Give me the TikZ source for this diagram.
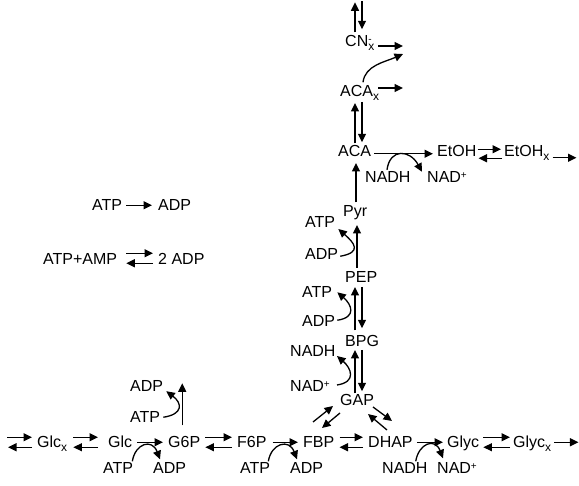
\documentclass[tikz,border=0pt]{standalone}
\usepackage{fontspec}
\setmainfont{Liberation Sans}
\usetikzlibrary{arrows.meta,calc}
\newcommand\sbx[1]{\raisebox{-4pt}{\fontsize{12}{12}\selectfont #1}}
\newcommand\spx[1]{\raisebox{4.5pt}{\fontsize{10}{10}\selectfont #1}}
\begin{document}
\begin{tikzpicture}[x=1pt,y=-1pt,
  lbl/.style={inner sep=0pt, text height=11.5pt, text depth=0pt, anchor=base west, font=\fontsize{16}{19}\selectfont},
  arr/.style={line width=1.3pt, -{Triangle[length=8.5pt,width=8pt]}}]
\useasboundingbox (0,0) rectangle (579,486);
\coordinate (U) at (355,0);
\coordinate (D) at (362,0);
\coordinate (P) at (357,0);
% labels
\node[lbl] (cnx) at (345,47) {CN\sbx{x}\hspace{-6pt}\spx{-}};
\node[lbl] (acax) at (340,97) {ACA\sbx{x}};
\node[lbl] (aca) at (338,157) {ACA};
\node[lbl] (etoh) at (437,157) {EtOH};
\node[lbl] (etohx) at (504,157) {EtOH\sbx{x}};
\node[lbl] (nadh1) at (365,183) {NADH};
\node[lbl] (nad1) at (427,183) {NAD\spx{+}};
\node[lbl] (pyr) at (343,217) {Pyr};
\node[lbl] (atp1) at (305,228) {ATP};
\node[lbl] (adp1) at (305,260) {ADP};
\node[lbl] (pep) at (345,283) {PEP};
\node[lbl] (atp2) at (302,298) {ATP};
\node[lbl] (adp2) at (302,327) {ADP};
\node[lbl] (bpg) at (345,347) {BPG};
\node[lbl] (nadh2) at (290,357) {NADH};
\node[lbl] (nad2) at (290,392) {NAD\spx{+}};
\node[lbl] (gap) at (340,406) {GAP};
\node[lbl] (glcx) at (37,448) {Glc\sbx{x}};
\node[lbl] (glc) at (108,448) {Glc};
\node[lbl] (g6p) at (168,448) {G6P};
\node[lbl] (f6p) at (237,448) {F6P};
\node[lbl] (fbp) at (303,448) {FBP};
\node[lbl] (dhap) at (368,448) {DHAP};
\node[lbl] (glyc) at (447,448) {Glyc};
\node[lbl] (glycx) at (513,448) {Glyc\sbx{x}};
\node[lbl] (atp3) at (103,474) {ATP};
\node[lbl] (adp3) at (153,474) {ADP};
\node[lbl] (atp4) at (240,474) {ATP};
\node[lbl] (adp4) at (290,474) {ADP};
\node[lbl] (nadh3) at (382,474) {NADH};
\node[lbl] (nad3) at (437,474) {NAD\spx{+}};
\node[lbl] (adp5) at (130,392) {ADP};
\node[lbl] (atp5) at (130,423) {ATP};
\node[lbl] (atpL) at (92,211) {ATP};
\node[lbl] (adpL) at (158,211) {ADP};
\node[lbl] (atpamp) at (43,265) {ATP+AMP};
\node[lbl] (twoadp) at (158,265) {2 ADP};
% CN
\draw[arr] ($(cnx.north -| U)+(0,-3)$) -- ($(cnx.north -| U)+(0,-33)$);
\draw[arr] ($(cnx.north -| D)+(0,-34)$) -- ($(cnx.north -| D)+(0,-6)$);
\draw[arr] ($(cnx.base west)+(33,-1)$) -- ($(cnx.base west)+(58,-1)$);
\draw[arr] ($(acax.north -| D)+(1,-3)$) .. controls +(2,-17) and +(-18,8) .. ($(cnx.base west)+(58,7)$);
\draw[arr] ($(acax.base west)+(38,-9)$) -- ($(acax.base west)+(63,-9)$);
% ACA / ACAx
\draw[arr] ($(aca.north -| U)+(0,-2)$) -- ($(acax.base west -| U)+(0,6)$);
\draw[arr] ($(acax.base west -| D)+(0,5)$) -- ($(aca.north -| D)+(0,-3)$);
% ACA -> EtOH
\draw[arr] ($(aca.east)+(3,2.5)$) -- ($(etoh.west)+(-4,2.5)$);
\draw[arr] ($(nadh1.north west)+(22,-1.5)$) .. controls +(3,-22) and +(-12,-22) .. ($(nad1.north west)+(-5,0.5)$);
\draw[arr] ($(etoh.east)+(1,-2)$) -- ($(etohx.west)+(-3,-2)$);
\draw[arr] ($(etohx.west)+(-2,7)$) -- ($(etoh.east)+(2,7)$);
\draw[arr] ($(etohx.east)+(3,6.5)$) -- ($(etohx.east)+(27,6.5)$);
% Pyr
\draw[arr] ($(pyr.north -| U)+(1,-3)$) -- ($(aca.base west -| U)+(1,6)$);
\draw[arr] ($(pep.north -| P)+(0,-3.5)$) -- ($(pyr.base west -| P)+(0,8)$);
\draw[arr] ($(adp1.east)+(2,2)$) .. controls +(22,-4) and +(16,14) .. ($(atp1.east)+(3,6.75)$);
% PEP / BPG
\draw[arr] ($(bpg.north -| U)+(0,-5)$) -- ($(pep.base west -| U)+(0,4)$);
\draw[arr] ($(pep.base west -| D)+(0,4)$) -- ($(bpg.north -| D)+(0,-7)$);
\draw[arr] ($(adp2.east)+(2,-1)$) .. controls +(20,-3) and +(14,12) .. ($(atp2.east)+(5,0)$);
% BPG / GAP
\draw[arr] ($(gap.north -| U)+(0,-1)$) -- ($(bpg.base west -| U)+(0,3)$);
\draw[arr] ($(bpg.base west -| D)+(0,3)$) -- ($(gap.north -| D)+(0,-3)$);
\draw[arr] ($(nad2.base west)+(47,-7)$) .. controls +(20,-3) and +(14,12) .. ($(nadh2.base west)+(47,-1)$);
% GAP diagonals
\draw[arr] ($(fbp.base west)+(10,-26)$) -- ($(gap.base west)+(-7,0)$);
\draw[arr] ($(gap.base west)+(0,7)$) -- ($(fbp.base west)+(19,-20)$);
\draw[arr] ($(gap.base west)+(33,1)$) -- ($(dhap.base west)+(24,-27)$);
\draw[arr] ($(dhap.base west)+(19,-18)$) -- ($(gap.base west)+(28,8)$);
% bottom row
\draw[arr] ($(glcx.west)+(-30,-5)$) -- ($(glcx.west)+(-5,-5)$);
\draw[arr] ($(glcx.west)+(-5,5)$) -- ($(glcx.west)+(-29,5)$);
\draw[arr] ($(glcx.east)+(6,-5)$) -- ($(glc.west)+(-10,-5)$);
\draw[arr] ($(glc.west)+(-10,5)$) -- ($(glcx.east)+(6,5)$);
\draw[arr] ($(glc.east)+(5,0)$) -- ($(g6p.west)+(-5,0)$);
\draw[arr] ($(atp3.north east)+(-1,-1)$) .. controls +(3,-18) and +(-8,-21) .. ($(adp3.north west)+(7,-3)$);
\draw[arr] ($(g6p.east)+(5,-5)$) -- ($(f6p.west)+(-5,-5)$);
\draw[arr] ($(f6p.west)+(-5,5)$) -- ($(g6p.east)+(5,5)$);
\draw[arr] ($(g6p.north)+(-2,-11)$) -- ($(g6p.north)+(-2,-53)$);
\draw[arr] ($(atp5.east)+(3,0)$) .. controls +(20,-3) and +(16,12) .. ($(adp5.south east)+(3,-1)$);
\draw[arr] ($(f6p.east)+(6,0)$) -- ($(fbp.west)+(-5,0)$);
\draw[arr] ($(atp4.north east)+(-2,-1)$) .. controls +(3,-18) and +(-8,-21) .. ($(adp4.north west)+(7,-3)$);
\draw[arr] ($(fbp.east)+(5,-5)$) -- ($(dhap.west)+(-5,-5)$);
\draw[arr] ($(dhap.west)+(-5,5)$) -- ($(fbp.east)+(5,5)$);
\draw[arr] ($(dhap.east)+(4,0)$) -- ($(glyc.west)+(-4,0)$);
\draw[arr] ($(nadh3.north east)+(-12,-1)$) .. controls +(3,-18) and +(-8,-21) .. ($(nad3.north west)+(6,-4)$);
\draw[arr] ($(glyc.east)+(4,-5)$) -- ($(glycx.west)+(-3,-5)$);
\draw[arr] ($(glycx.west)+(-3,5)$) -- ($(glyc.east)+(4,5)$);
\draw[arr] ($(glycx.east)+(3,0)$) -- ($(glycx.east)+(27,0)$);
% legend
\draw[arr] ($(atpL.east)+(4,0)$) -- ($(adpL.west)+(-6,0)$);
\draw[arr] ($(atpamp.east)+(9,-6)$) -- ($(twoadp.west)+(-5,-6)$);
\draw[arr] ($(twoadp.west)+(-5,4)$) -- ($(atpamp.east)+(9,4)$);
\end{tikzpicture}
\end{document}
